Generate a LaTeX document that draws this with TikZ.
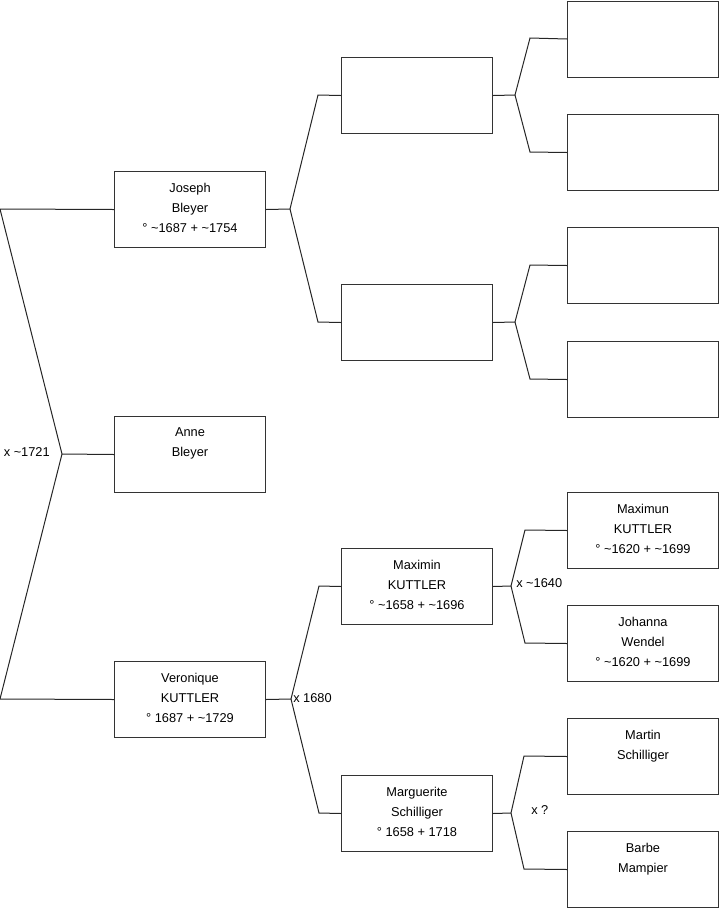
\documentclass[tikz,border=0pt]{standalone}
\usepackage{fontspec}
\setmainfont{Liberation Sans}
\usepackage{tikz}
\usetikzlibrary{positioning}

\tikzset{
  person/.style={draw=black!80, line width=0.75pt, minimum width=113.25pt,
    minimum height=57pt, inner sep=0pt, anchor=north west},
  names/.style={anchor=north, inner sep=0pt, align=center,
    font=\fontsize{9.6}{15}\selectfont},
  link/.style={draw=black!85, line width=0.75pt},
  wed/.style={inner sep=0pt, font=\fontsize{9.6}{12}\selectfont}
}

\begin{document}
\begin{tikzpicture}[x=0.75pt, y=-0.75pt]
  \useasboundingbox (0,0) rectangle (719,908);

  % children
  \node[person] (joseph) at (114,171) {};
  \node[names, below=8.8pt of joseph.north] (joseph-t)
    {Joseph\\Bleyer\\° \textasciitilde1687 + \textasciitilde1754};
  \node[person] (anne) at (114,416) {};
  \node[names, below=8.8pt of anne.north] (anne-t) {Anne\\Bleyer};
  \node[person] (veronique) at (114,661) {};
  \node[names, below=8.8pt of veronique.north] (veronique-t)
    {Veronique\\KUTTLER\\° 1687 + \textasciitilde1729};

  % parents
  \node[person] (bleyer1) at (341,57) {};
  \node[person] (bleyer2) at (341,284) {};
  \node[person] (maximin) at (341,548) {};
  \node[names, below=8.8pt of maximin.north] (maximin-t)
    {Maximin\\KUTTLER\\° \textasciitilde1658 + \textasciitilde1696};
  \node[person] (marguerite) at (341,775) {};
  \node[names, below=8.8pt of marguerite.north] (marguerite-t)
    {Marguerite\\Schilliger\\° 1658 + 1718};

  % grandparents
  \foreach \y [count=\i] in {0.5,114,227,341}
    \node[person] (empty\i) at (567,\y) {};
  \node[person] (maximun) at (567,492) {};
  \node[names, below=8.8pt of maximun.north] (maximun-t)
    {Maximun\\KUTTLER\\° \textasciitilde1620 + \textasciitilde1699};
  \node[person] (johanna) at (567,605) {};
  \node[names, below=8.8pt of johanna.north] (johanna-t)
    {Johanna\\Wendel\\° \textasciitilde1620 + \textasciitilde1699};
  \node[person] (martin) at (567,718) {};
  \node[names, below=8.8pt of martin.north] (martin-t) {Martin\\Schilliger};
  \node[person] (barbe) at (567,831) {};
  \node[names, below=8.8pt of barbe.north] (barbe-t) {Barbe\\Mampier};

  % fork points
  \coordinate (rt) at (0,209);
  \coordinate (rf) at (62,454);
  \coordinate (rb) at (0,699);
  \coordinate (jf) at (290,209);
  \coordinate (jt) at (318,95);
  \coordinate (jb) at (318,322);
  \coordinate (vf) at (291,699);
  \coordinate (vt) at (319,586);
  \coordinate (vb) at (319,813);
  \coordinate (b1f) at (515,95);
  \coordinate (b1t) at (530,38);
  \coordinate (b1b) at (530,152);
  \coordinate (b2f) at (515,322);
  \coordinate (b2t) at (530,265);
  \coordinate (b2b) at (530,379);
  \coordinate (mxf) at (511,586);
  \coordinate (mxt) at (525,530);
  \coordinate (mxb) at (525,643);
  \coordinate (mgf) at (511,813);
  \coordinate (mgt) at (524,756);
  \coordinate (mgb) at (524,869);

  % connectors
  \draw[link] (joseph.west) -- (rt) -- (rf) -- (rb) -- (veronique.west);
  \draw[link] (rf) -- (anne.west);
  \draw[link] (joseph.east) -- (jf) -- (jt) -- (bleyer1.west);
  \draw[link] (jf) -- (jb) -- (bleyer2.west);
  \draw[link] (veronique.east) -- (vf) -- (vt) -- (maximin.west);
  \draw[link] (vf) -- (vb) -- (marguerite.west);
  \draw[link] (bleyer1.east) -- (b1f) -- (b1t) -- (empty1.west);
  \draw[link] (b1f) -- (b1b) -- (empty2.west);
  \draw[link] (bleyer2.east) -- (b2f) -- (b2t) -- (empty3.west);
  \draw[link] (b2f) -- (b2b) -- (empty4.west);
  \draw[link] (maximin.east) -- (mxf) -- (mxt) -- (maximun.west);
  \draw[link] (mxf) -- (mxb) -- (johanna.west);
  \draw[link] (marguerite.east) -- (mgf) -- (mgt) -- (martin.west);
  \draw[link] (mgf) -- (mgb) -- (barbe.west);

  % marriages
  \node[wed, anchor=east] (wed-anne) at (50,452) {x \textasciitilde1721};
  \node[wed, anchor=west] (wed-vero) at (293,698) {x 1680};
  \node[wed, anchor=west] (wed-maxi) at (516,583) {x \textasciitilde1640};
  \node[wed, anchor=west] (wed-marg) at (531,810) {x ?};
\end{tikzpicture}
\end{document}
